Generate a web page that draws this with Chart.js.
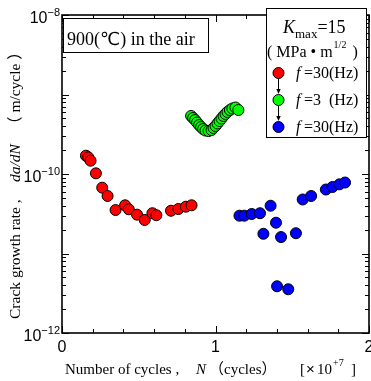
<!DOCTYPE html>
<html><head><meta charset="utf-8">
<script src="https://cdn.jsdelivr.net/npm/chart.js@4.4.0/dist/chart.umd.min.js"></script>
<style>html,body{margin:0;padding:0;background:#fff;overflow:hidden}canvas{display:block}</style>
</head><body>
<canvas id="c" width="371" height="381" style="width:371px;height:381px"></canvas>
<script>
// ---- data (N in units of 1e7 cycles, da/dN in m/cycle) ----
const redN = [0.156,0.171,0.186,0.221,0.262,0.297,0.349,0.411,0.435,0.489,0.539,0.589,0.615,0.710,0.758,0.807,0.844];
const redRate = [1.70e-10,1.62e-10,1.47e-10,1.02e-10,6.73e-11,5.29e-11,3.52e-11,4.04e-11,3.60e-11,3.08e-11,2.64e-11,3.21e-11,3.03e-11,3.45e-11,3.63e-11,3.88e-11,4.04e-11];
const greenN = [0.841,0.854,0.867,0.880,0.893,0.906,0.919,0.935,0.955,0.974,0.987,1.000,1.013,1.026,1.039,1.052,1.065,1.078,1.094,1.110,1.130,1.149];
const greenRate = [5.37e-10,5.06e-10,4.77e-10,4.44e-10,4.13e-10,3.90e-10,3.68e-10,3.52e-10,3.47e-10,3.57e-10,3.79e-10,4.02e-10,4.32e-10,4.64e-10,4.99e-10,5.37e-10,5.69e-10,6.03e-10,6.38e-10,6.67e-10,6.86e-10,6.38e-10];
const blueN = [1.156,1.188,1.236,1.290,1.312,1.359,1.394,1.401,1.427,1.474,1.524,1.568,1.623,1.719,1.762,1.807,1.844];
const blueRate = [2.99e-11,2.99e-11,3.14e-11,3.21e-11,1.77e-11,3.99e-11,2.44e-11,3.87e-12,1.61e-11,3.55e-12,1.80e-11,4.78e-11,5.29e-11,6.38e-11,6.86e-11,7.41e-11,7.81e-11];

const xMajorTicks = [0,1,2];
const xTickLabels = ['0','1','2'];
const xMinorStep = 0.2;
const yLabelDecades = [-12,-10,-8];
const yDecades = [-12,-11,-10,-9,-8];
const legendFreqs = ['=30(Hz)','=3  (Hz)','=30(Hz)'];
const seriesColors = ['#ff0000','#00ff00','#0000ff'];

const toPts = (xs, ys) => xs.map((x,i) => ({x, y: ys[i]}));

const SERIF = '"Liberation Serif","Times New Roman","Noto Sans CJK JP",serif';
const SANS = '"Liberation Sans",Arial,sans-serif';

const decor = {
  id: 'decor',
  afterDraw(chart) {
    const ctx = chart.ctx, a = chart.chartArea;
    const xs = chart.scales.x, ys = chart.scales.y;
    ctx.save();
    ctx.strokeStyle = '#000'; ctx.fillStyle = '#000';
    // frame
    ctx.lineWidth = 1.6;
    ctx.strokeRect(a.left, a.top, a.right - a.left, a.bottom - a.top);
    // x ticks
    ctx.lineWidth = 1;
    for (let v = 0; v <= 2.0001; v += xMinorStep) {
      const px = Math.round(xs.getPixelForValue(v)) + 0.5;
      const major = xMajorTicks.some(m => Math.abs(m - v) < 1e-6);
      const len = major ? 7 : 4;
      ctx.beginPath();
      ctx.moveTo(px, a.bottom); ctx.lineTo(px, a.bottom - len);
      ctx.moveTo(px, a.top); ctx.lineTo(px, a.top + len);
      ctx.stroke();
    }
    // y ticks
    yDecades.forEach((d, i) => {
      const p = Math.round(ys.getPixelForValue(Math.pow(10, d))) + 0.5;
      ctx.beginPath();
      ctx.moveTo(a.left, p); ctx.lineTo(a.left + 7, p);
      ctx.moveTo(a.right, p); ctx.lineTo(a.right - 7, p);
      ctx.stroke();
      if (i < yDecades.length - 1) {
        for (let m = 2; m <= 9; m++) {
          const q = Math.round(ys.getPixelForValue(m * Math.pow(10, d))) + 0.5;
          ctx.beginPath();
          ctx.moveTo(a.left, q); ctx.lineTo(a.left + 4, q);
          ctx.moveTo(a.right, q); ctx.lineTo(a.right - 4, q);
          ctx.stroke();
        }
      }
    });
    // x tick labels
    ctx.font = '16px ' + SANS; ctx.textAlign = 'center'; ctx.textBaseline = 'alphabetic';
    xMajorTicks.forEach((v, i) => ctx.fillText(xTickLabels[i], xs.getPixelForValue(v), a.bottom + 19));
    // y tick labels
    yLabelDecades.forEach(d => {
      const p = ys.getPixelForValue(Math.pow(10, d));
      ctx.textAlign = 'left';
      ctx.font = '11px ' + SANS;
      const sup = '\u2212' + Math.abs(d);
      const ws = ctx.measureText(sup).width;
      ctx.font = '16px ' + SANS;
      const wb = ctx.measureText('10').width;
      const right = a.left - 2;
      ctx.fillText('10', right - ws - wb, p + 8);
      ctx.font = '11px ' + SANS;
      ctx.fillText(sup, right - ws, p + 1);
    });
    // x title
    ctx.textAlign = 'left';
    ctx.font = '15px ' + SERIF;
    ctx.fillText('Number of cycles ,', 65, 374);
    ctx.font = 'italic 15px ' + SERIF;
    ctx.fillText('N', 196, 374);
    ctx.font = '15px ' + SERIF;
    ctx.fillText('\uff08cycles\uff09', 209, 374);
    ctx.fillText('[', 300, 374);
    ctx.font = '15px ' + SANS;
    ctx.fillText('\u00d7', 306, 374);
    ctx.font = '15px ' + SERIF;
    ctx.fillText('10', 317, 374);
    ctx.font = '10px ' + SERIF;
    ctx.fillText('+7', 333, 366);
    ctx.font = '15px ' + SERIF;
    ctx.fillText(']', 351, 374);
    // y title (rotated)
    ctx.save();
    ctx.translate(20, 0);
    ctx.rotate(-Math.PI / 2);
    ctx.font = '15.5px ' + SERIF;
    ctx.fillText('Crack growth rate ,', -319, 0);
    ctx.font = 'italic 15.5px ' + SERIF;
    ctx.fillText('da/dN', -182, 0);
    ctx.font = '15.5px ' + SERIF;
    ctx.fillText('\uff08 m/cycle \uff09', -132, 0);
    ctx.restore();
    // annotation box
    ctx.fillStyle = '#fff';
    ctx.fillRect(63, 18, 145, 34);
    ctx.lineWidth = 1; ctx.strokeStyle = '#000';
    ctx.strokeRect(63.5, 18.5, 145, 34);
    ctx.fillStyle = '#000';
    ctx.font = '18px "Liberation Serif","DejaVu Sans",serif';
    ctx.fillText('900(\u2103) in the air', 67, 45);
    // legend box
    ctx.fillStyle = '#fff';
    ctx.fillRect(266, 8, 100, 129);
    ctx.strokeRect(266.5, 8.5, 100, 129);
    ctx.fillStyle = '#000';
    ctx.font = 'italic 18px ' + SERIF;
    ctx.fillText('K', 283, 33);
    let x = 283 + ctx.measureText('K').width;
    ctx.font = '13px ' + SERIF;
    ctx.fillText('max', x, 38);
    x += ctx.measureText('max').width;
    ctx.font = '18px ' + SERIF;
    ctx.fillText('=15', x, 33);
    ctx.font = '16px ' + SERIF;
    ctx.fillText('( MPa \u2022 m', 267, 57);
    x = 267 + ctx.measureText('( MPa \u2022 m').width;
    ctx.font = '10px ' + SERIF;
    ctx.fillText('1/2', x + 1, 48);
    x += 1 + ctx.measureText('1/2').width;
    ctx.font = '16px ' + SERIF;
    ctx.fillText(' )', x + 2, 57);
    const ly = [73, 100, 127];
    // arrows
    ctx.lineWidth = 1;
    for (let i = 0; i < 2; i++) {
      const y0 = ly[i] + 6, y1 = ly[i + 1] - 6;
      ctx.beginPath(); ctx.moveTo(278.5, y0); ctx.lineTo(278.5, y1 - 3); ctx.stroke();
      ctx.beginPath(); ctx.moveTo(278.5, y1); ctx.lineTo(276.3, y1 - 5); ctx.lineTo(280.7, y1 - 5); ctx.closePath(); ctx.fill();
    }
    ly.forEach((y, i) => {
      ctx.beginPath(); ctx.arc(278.5, y, 5.5, 0, Math.PI * 2);
      ctx.fillStyle = seriesColors[i]; ctx.fill();
      ctx.strokeStyle = '#000'; ctx.stroke();
      ctx.fillStyle = '#000';
      ctx.font = 'italic 16px ' + SERIF;
      ctx.fillText('f', 296, y + 5);
      ctx.font = '16px ' + SERIF;
      ctx.fillText(' ' + legendFreqs[i], 300, y + 5);
    });
    ctx.restore();
  }
};

const ds = (data, color) => ({
  data, backgroundColor: color, borderColor: '#000', borderWidth: 1,
  pointRadius: 5.5, pointHoverRadius: 5.5, pointStyle: 'circle'
});

new Chart(document.getElementById('c'), {
  type: 'scatter',
  data: { datasets: [
    ds(toPts(redN, redRate), seriesColors[0]),
    ds(toPts(greenN, greenRate), seriesColors[1]),
    ds(toPts(blueN, blueRate), seriesColors[2])
  ]},
  options: {
    responsive: false, animation: false, devicePixelRatio: 1,
    layout: { padding: { left: 62, right: 2, top: 15, bottom: 48 }, autoPadding: false },
    plugins: { legend: { display: false }, tooltip: { enabled: false } },
    scales: {
      x: { type: 'linear', min: 0, max: 2, display: false },
      y: { type: 'logarithmic', min: 1e-12, max: 1e-8, display: false }
    }
  },
  plugins: [decor]
});
</script>
</body></html>
